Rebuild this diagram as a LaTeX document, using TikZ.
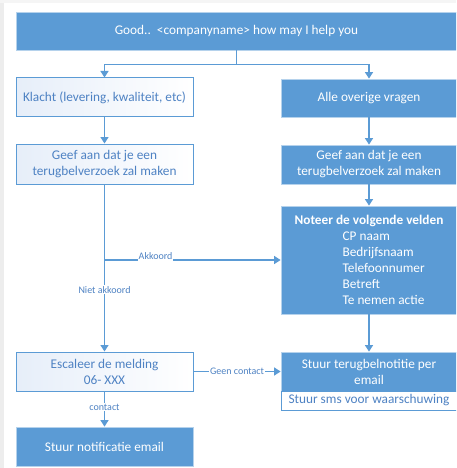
\documentclass[tikz,border=0pt]{standalone}
\usepackage{fontspec}
\setmainfont{Carlito}
\usetikzlibrary{arrows.meta}

\definecolor{boxblue}{RGB}{91,155,213}
\definecolor{txtblue}{RGB}{78,130,195}
\definecolor{paleblue}{RGB}{230,238,249}

\tikzset{
	darkbox/.style={rectangle, fill=boxblue, draw=white!55!boxblue, line width=0.8pt, text=white, inner sep=0pt, align=center, font=\fontsize{13.3}{16}\selectfont},
	lightbox/.style={rectangle, left color=paleblue, right color=white, draw=boxblue, line width=1pt, text=txtblue, inner sep=0pt, align=center, font=\fontsize{13.3}{16}\selectfont},
	conn/.style={draw=boxblue, line width=1.4pt, -{Triangle[width=8pt,length=6.5pt]}},
	lbl/.style={fill=white, text=txtblue, inner sep=1pt, font=\fontsize{10}{12}\selectfont}
}

\begin{document}
\begin{tikzpicture}[x=1pt, y=-1pt]

	\useasboundingbox (0,0) rectangle (456,468);
	\clip (0,0) rectangle (456,468);
	\fill[white] (0,0) rectangle (456,468);
	\fill[gray!14] (0,0) rectangle (4,468);
	\fill[gray!8] (0,0) rectangle (456,3);

% Kopregel
	\node[darkbox, minimum width=441pt, minimum height=38pt] (top) at (236.5,31) {Good..\ \ <companyname> how may I help you};

% Linker kolom
	\node[lightbox, minimum width=177pt, minimum height=39pt] (klacht) at (104.5,97.5) {Klacht (levering, kwaliteit, etc)};
	\node[lightbox, minimum width=177pt, minimum height=40pt] (geefL) at (104.5,164) {Geef aan dat je een\\terugbelverzoek zal maken};
	\node[lightbox, minimum width=177pt, minimum height=39pt] (escaleer) at (104.5,371.5) {Escaleer de melding\\06- XXX};
	\node[darkbox, minimum width=177pt, minimum height=39pt] (notificatie) at (104.5,446.5) {Stuur notificatie email};

% Rechter kolom
	\node[darkbox, minimum width=176pt, minimum height=38pt] (overig) at (369,98) {Alle overige vragen};
	\node[darkbox, minimum width=176pt, minimum height=39pt] (geefR) at (369,164.5) {Geef aan dat je een\\terugbelverzoek zal maken};
	\node[darkbox, minimum width=176pt, minimum height=108pt, align=left] (noteer) at (369,260) {\textbf{Noteer de volgende velden}\\[-0.2pt]
		\hspace*{48pt}CP naam\\ \hspace*{48pt}Bedrijfsnaam\\ \hspace*{48pt}Telefoonnumer\\ \hspace*{48pt}Betreft\\ \hspace*{48pt}Te nemen actie};
	\node[darkbox, minimum width=176pt, minimum height=39pt] (terugbel) at (369,371.5) {Stuur terugbelnotitie per\\email};
	\node[lightbox, left color=white, minimum width=176pt, minimum height=19pt] (sms) at (369,400.5) {Stuur sms voor waarschuwing};

% Verbindingen
	\draw[conn] (top.south) -- ++(0,14) -| (klacht.north);
	\draw[conn] (top.south) -- ++(0,14) -| (overig.north);
	\draw[conn] (klacht.south) -- (geefL.north);
	\draw[conn] (overig.south) -- (geefR.north);
	\draw[conn] (geefR.south) -- (noteer.north);
	\draw[conn] (geefL.south) -- node[lbl, pos=0.63] {Niet akkoord} (escaleer.north);
	\coordinate (akkoord) at (geefL.south |- noteer.west);
	\draw[conn] (akkoord) -- node[lbl, pos=0.29, yshift=4pt] {Akkoord} (noteer.west);
	\draw[conn] (noteer.south) -- (terugbel.north);
	\draw[conn] (escaleer.east) -- node[lbl] {Geen contact} (terugbel.west);
	\draw[conn] (escaleer.south) -- node[lbl, pos=0.45] {contact} (notificatie.north);

\end{tikzpicture}
\end{document}
